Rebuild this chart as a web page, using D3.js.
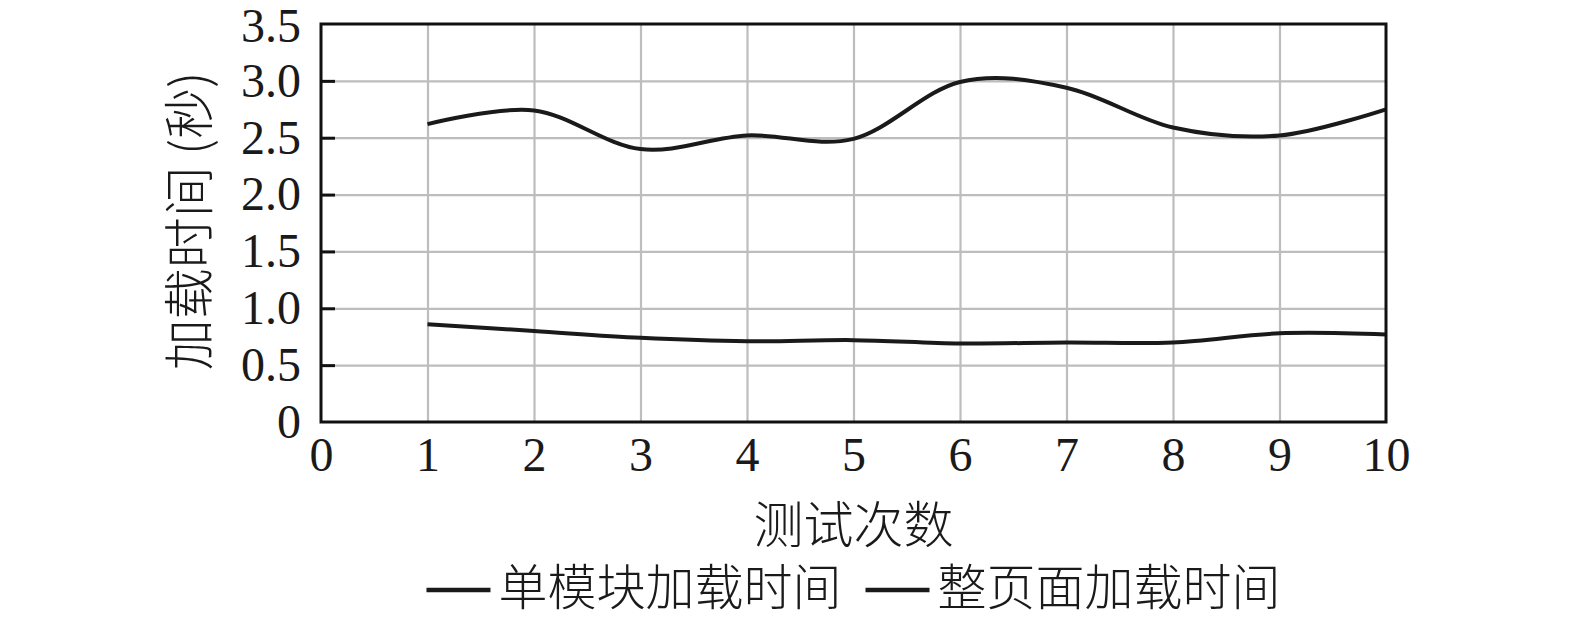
<!DOCTYPE html>
<html>
<head>
<meta charset="utf-8">
<script src="https://cdn.jsdelivr.net/npm/d3@7"></script>
<style>
  body { margin: 0; background: #fff; }
  .tick-num { font-family: "Liberation Serif", "Times New Roman", serif; }
  .cjk { font-family: "Noto Sans CJK SC", sans-serif; font-weight: 300; }
</style>
</head>
<body>
<div id="chart"></div>
<script>
// values
const runs = [1, 2, 3, 4, 5, 6, 7, 8, 9, 10];
const pageTime = [2.62, 2.74, 2.40, 2.52, 2.49, 2.99, 2.94, 2.59, 2.52, 2.75];
const moduleTime = [0.86, 0.80, 0.74, 0.71, 0.72, 0.69, 0.70, 0.70, 0.78, 0.77];
const xTicks = [0, 1, 2, 3, 4, 5, 6, 7, 8, 9, 10];
const yTicks = [0, 0.5, 1.0, 1.5, 2.0, 2.5, 3.0, 3.5];
const seriesNames = ["单模块加载时间", "整页面加载时间"];

const config = {
    containerWidth: 1575,
    containerHeight: 618,
    margin: { top: 24, right: 189, bottom: 196, left: 321 }
};
const width = config.containerWidth - config.margin.left - config.margin.right;
const height = config.containerHeight - config.margin.top - config.margin.bottom;

const root = d3.select("#chart").append("svg")
    .attr("width", config.containerWidth)
    .attr("height", config.containerHeight);

const svg = root.append("g")
    .attr("transform", `translate(${config.margin.left}, ${config.margin.top})`);

const xScale = d3.scaleLinear().domain([0, 10]).range([0, width]);
const yScale = d3.scaleLinear().domain([0, 3.5]).range([height, 0]);

// grid lines
svg.append("g")
    .attr("class", "x-grid")
    .attr("transform", `translate(0, ${height})`)
    .call(d3.axisBottom(xScale).tickValues(xTicks.slice(1, -1)).tickSize(-height).tickFormat(""))
    .call(g => g.select(".domain").remove())
    .selectAll("line").attr("stroke", "#bdbdbd").attr("stroke-width", 2.2);

svg.append("g")
    .attr("class", "y-grid")
    .call(d3.axisLeft(yScale).tickValues(yTicks.slice(1, -1)).tickSize(-width).tickFormat(""))
    .call(g => g.select(".domain").remove())
    .selectAll("line").attr("stroke", "#bdbdbd").attr("stroke-width", 2.2);

// the two series, smoothed like a spreadsheet "smooth line"
const line = d3.line()
    .x((d, i) => xScale(runs[i]))
    .y(d => yScale(d))
    .curve(d3.curveCardinal.tension(0));

[moduleTime, pageTime].forEach(series => {
    svg.append("path")
        .datum(series)
        .attr("fill", "none")
        .attr("stroke", "#1a1a1a")
        .attr("stroke-width", 4)
        .attr("d", line);
});

// frame
svg.append("rect")
    .attr("width", width)
    .attr("height", height)
    .attr("fill", "none")
    .attr("stroke", "#111")
    .attr("stroke-width", 3);

// axes: y ticks point inward, x has labels only
const yAxisGroup = svg.append("g")
    .call(d3.axisLeft(yScale).tickValues(yTicks)
        .tickSizeInner(-14).tickSizeOuter(0).tickPadding(20)
        .tickFormat(d => d === 0 ? "0" : d3.format(".1f")(d)));
yAxisGroup.select(".domain").remove();
yAxisGroup.selectAll("line").attr("stroke", "#111").attr("stroke-width", 3);
yAxisGroup.selectAll("text")
    .attr("class", "tick-num")
    .attr("font-size", 48)
    .attr("fill", "#1a1a1a");
yAxisGroup.selectAll(".tick").filter(d => d === 0 || d === 3.5).select("line").remove();
// keep the top label inside the page
yAxisGroup.selectAll(".tick").filter(d => d === 3.5).select("text").attr("dy", "0.36em");

const xAxisGroup = svg.append("g")
    .attr("transform", `translate(0, ${height})`)
    .call(d3.axisBottom(xScale).tickValues(xTicks).tickSize(0).tickPadding(15));
xAxisGroup.select(".domain").remove();
xAxisGroup.selectAll("text")
    .attr("class", "tick-num")
    .attr("font-size", 48)
    .attr("fill", "#1a1a1a");

// axis titles
svg.append("text")
    .attr("class", "cjk")
    .attr("x", width / 2)
    .attr("y", height + 121)
    .attr("text-anchor", "middle")
    .attr("font-size", 50)
    .attr("fill", "#1a1a1a")
    .text("测试次数");

svg.append("text")
    .attr("class", "cjk")
    .attr("transform", `translate(-113, ${height / 2 - 2}) rotate(-90)`)
    .attr("text-anchor", "middle")
    .attr("font-size", 51)
    .attr("fill", "#1a1a1a")
    .text("加载时间 (秒)");

// legend, centred under the plot
const legend = svg.append("g");
let offset = 0;
seriesNames.forEach((name, i) => {
    const item = legend.append("g").attr("transform", `translate(${offset}, 0)`);
    item.append("line")
        .attr("x1", 0).attr("x2", 64)
        .attr("y1", 0).attr("y2", 0)
        .attr("stroke", "#1a1a1a")
        .attr("stroke-width", 4.5);
    const t = item.append("text")
        .attr("class", "cjk")
        .attr("x", 72)
        .attr("y", 15)
        .attr("font-size", 49)
        .attr("fill", "#1a1a1a")
        .text(name);
    offset += 72 + t.node().getComputedTextLength() + 24;
});
offset -= 24;
legend.attr("transform", `translate(${width / 2 - offset / 2}, ${height + 168})`);
</script>
</body>
</html>
